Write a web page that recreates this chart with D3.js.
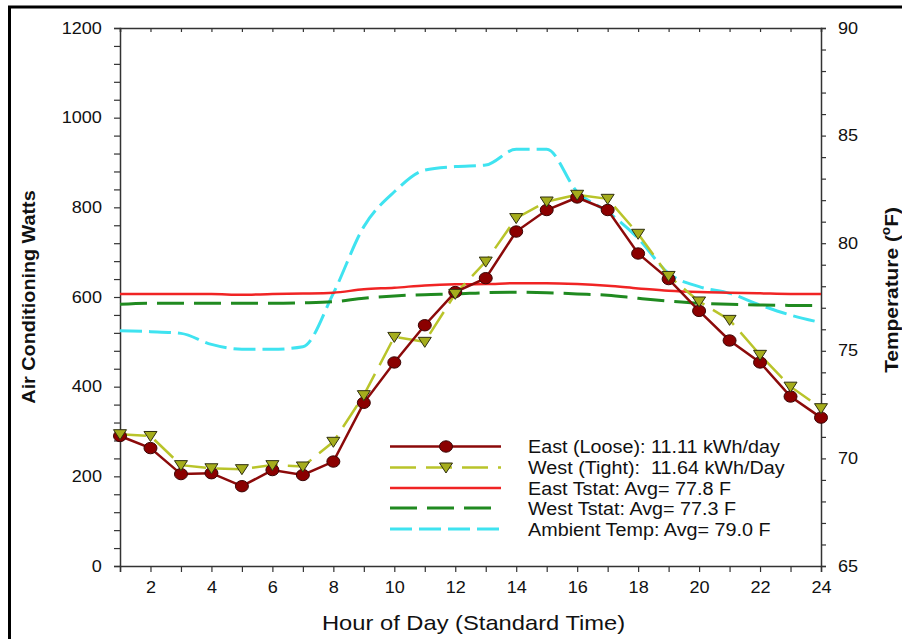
<!DOCTYPE html>
<html>
<head>
<meta charset="utf-8">
<title>Air conditioning watts by hour</title>
<script src="https://d3js.org/d3.v7.min.js"></script>
<style>
  body { margin: 0; background: #fff; }
  text { font-family: "Liberation Sans", Arial, sans-serif; fill: #111; }
</style>
</head>
<body>
<div id="chart"></div>
<script>
// hourly values
var hours = [1,2,3,4,5,6,7,8,9,10,11,12,13,14,15,16,17,18,19,20,21,22,23,24]
var eastWatts = [290,263,205,207,178,214,203,233,364,454,537,611,642,746,794,822,794,697,640,569,503,454,378,331]
var westWatts = [294,290,225,218,216,225,222,277,381,511,500,607,679,776,813,828,819,741,647,590,549,471,400,352]
var eastTstat = [77.64,77.64,77.64,77.64,77.6,77.64,77.66,77.7,77.86,77.93,78.04,78.09,78.1,78.14,78.14,78.1,78.02,77.9,77.79,77.73,77.7,77.67,77.64,77.64]
var westTstat = [77.16,77.21,77.21,77.21,77.21,77.21,77.23,77.28,77.44,77.55,77.61,77.64,77.7,77.72,77.7,77.64,77.58,77.44,77.31,77.21,77.16,77.13,77.11,77.11]
var ambient = [75.93,75.89,75.81,75.3,75.07,75.07,75.19,77.67,80.77,82.39,83.4,83.56,83.63,84.36,84.36,82.39,81.46,80.23,78.6,77.98,77.67,77.13,76.66,76.31]
var legendLabels = ["East (Loose): 11.11 kWh/day", "West (Tight):  11.64 kWh/Day", "East Tstat: Avg= 77.8 F", "West Tstat: Avg= 77.3 F", "Ambient Temp: Avg= 79.0 F"]

var W = 902, H = 639
var SX = 1.13   // text in the picture is a bit wide
var margin = {top: 28, left: 120, right: 81, bottom: 73}

var svg = d3.select("#chart").append("svg")
  .attr("width", W).attr("height", H)

// frame round the figure
svg.append("rect")
  .attr("x", 9.5).attr("y", 7).attr("width", 920).attr("height", 660)
  .attr("fill", "none").attr("stroke", "#000").attr("stroke-width", 3)

var x = d3.scaleLinear().domain([1, 24]).range([margin.left, W - margin.right])
var y = d3.scaleLinear().domain([0, 1200]).range([H - margin.bottom, margin.top])
var yT = d3.scaleLinear().domain([65, 90]).range([H - margin.bottom, margin.top])

var axisColor = "#333"
function styleAxis(g) {
  g.select(".domain").attr("stroke", axisColor).attr("stroke-width", 1.5)
  g.selectAll(".tick line").attr("stroke", axisColor).attr("stroke-width", 1.2)
  g.selectAll("text").attr("font-size", 16).attr("fill", "#111")
    .attr("font-family", "'Liberation Sans', Arial, sans-serif")
    .attr("transform", "scale(" + SX + ",1)")
}

// left axis, minor ticks every 40
svg.append("g")
  .attr("transform", "translate(" + margin.left + ",0)")
  .call(d3.axisLeft(y).tickValues(d3.range(0, 1201, 40)).tickSize(6).tickPadding(10)
    .tickFormat(function(d) { return d % 200 === 0 ? d : "" }))
  .call(styleAxis)

// right axis, minor ticks every degree
svg.append("g")
  .attr("transform", "translate(" + (W - margin.right) + ",0)")
  .call(d3.axisRight(yT).tickValues(d3.range(65, 91, 1)).tickSize(5).tickPadding(10)
    .tickFormat(function(d) { return d % 5 === 0 ? d : "" }))
  .call(styleAxis)

// bottom axis
svg.append("g")
  .attr("transform", "translate(0," + (H - margin.bottom) + ")")
  .call(d3.axisBottom(x).tickValues(hours).tickSize(6).tickPadding(10)
    .tickFormat(function(d) { return d % 2 === 0 ? d : "" }))
  .call(styleAxis)

// top axis, ticks only
svg.append("g")
  .attr("transform", "translate(0," + margin.top + ")")
  .call(d3.axisBottom(x).tickValues(hours).tickSize(4).tickFormat(""))
  .call(styleAxis)

// lines
var wattLine = function(vals) {
  return d3.line().x(function(d, i) { return x(hours[i]) }).y(function(d) { return y(d) })(vals)
}
var tempLine = function(vals) {
  return d3.line().curve(d3.curveMonotoneX)
    .x(function(d, i) { return x(hours[i]) }).y(function(d) { return yT(d) })(vals)
}

var cEast = "#8b0a0a", cWest = "#b9c42a", cEastT = "#f02424", cWestT = "#208a20", cAmb = "#3fe3f0"
var dashWest = "26,10", dashGreen = "27,10", dashAmb = "22,7"

svg.append("path").attr("d", tempLine(ambient))
  .attr("fill", "none").attr("stroke", cAmb).attr("stroke-width", 3).attr("stroke-dasharray", dashAmb)
svg.append("path").attr("d", tempLine(westTstat))
  .attr("fill", "none").attr("stroke", cWestT).attr("stroke-width", 3).attr("stroke-dasharray", dashGreen)
svg.append("path").attr("d", tempLine(eastTstat))
  .attr("fill", "none").attr("stroke", cEastT).attr("stroke-width", 2.5)

svg.append("path").attr("d", wattLine(westWatts))
  .attr("fill", "none").attr("stroke", cWest).attr("stroke-width", 2.5).attr("stroke-dasharray", dashWest)
svg.append("path").attr("d", wattLine(eastWatts))
  .attr("fill", "none").attr("stroke", cEast).attr("stroke-width", 2.5)

var tri = "M-6.5,-4.5L6.5,-4.5L0,5.5Z"
function drawTri(sel) {
  sel.attr("d", tri).attr("fill", "#a5ad1c").attr("stroke", "#2f2f10").attr("stroke-width", 1)
}
function drawDot(sel) {
  sel.attr("rx", 6.5).attr("ry", 5.7).attr("fill", "#8b0000").attr("stroke", "#3a0505").attr("stroke-width", 1)
}

svg.selectAll(".east-dot").data(eastWatts).enter().append("ellipse")
  .attr("class", "east-dot")
  .attr("cx", function(d, i) { return x(hours[i]) }).attr("cy", function(d) { return y(d) })
  .call(drawDot)

svg.selectAll(".west-tri").data(westWatts).enter().append("path")
  .attr("class", "west-tri")
  .attr("transform", function(d, i) { return "translate(" + x(hours[i]) + "," + y(d) + ")" })
  .call(drawTri)

// legend
var legendStyles = [
  {color: cEast, dash: null, width: 2.5, marker: "dot"},
  {color: cWest, dash: dashWest, width: 2.5, marker: "tri"},
  {color: cEastT, dash: null, width: 2.5},
  {color: cWestT, dash: dashGreen, width: 3},
  {color: cAmb, dash: dashAmb, width: 3}
]
var legendY = [446.5, 467.5, 488, 508, 529]
var leg = svg.append("g")
legendLabels.forEach(function(label, i) {
  var s = legendStyles[i]
  var row = leg.append("g").attr("transform", "translate(0," + legendY[i] + ")")
  row.append("line").attr("x1", 390).attr("x2", 501).attr("y1", 0).attr("y2", 0)
    .attr("stroke", s.color).attr("stroke-width", s.width)
    .attr("stroke-dasharray", s.dash)
  if (s.marker === "dot") row.append("ellipse").attr("cx", 446).attr("cy", 0).call(drawDot)
  if (s.marker === "tri") row.append("path").attr("transform", "translate(446,0)").call(drawTri)
  row.append("text")
    .attr("transform", "translate(528,6.5) scale(" + SX + ",1)")
    .attr("font-size", 17.5)
    .attr("xml:space", "preserve")
    .style("white-space", "pre")
    .text(label)
})

// axis titles
svg.append("text")
  .attr("transform", "translate(322,630) scale(" + SX + ",1)")
  .attr("font-size", 21)
  .text("Hour of Day (Standard Time)")

svg.append("text")
  .attr("transform", "translate(35,297) rotate(-90) scale(" + SX + ",1)")
  .attr("text-anchor", "middle")
  .attr("font-size", 17.5).attr("font-weight", "bold")
  .text("Air Conditioning Watts")

var rt = svg.append("text")
  .attr("transform", "translate(898,290) rotate(-90) scale(" + SX + ",1)")
  .attr("text-anchor", "middle")
  .attr("font-size", 18.5).attr("font-weight", "bold")
rt.append("tspan").text("Temperature (")
rt.append("tspan").attr("font-size", 12).attr("dy", -8).text("o")
rt.append("tspan").attr("dy", 8).text("F)")
</script>
</body>
</html>
